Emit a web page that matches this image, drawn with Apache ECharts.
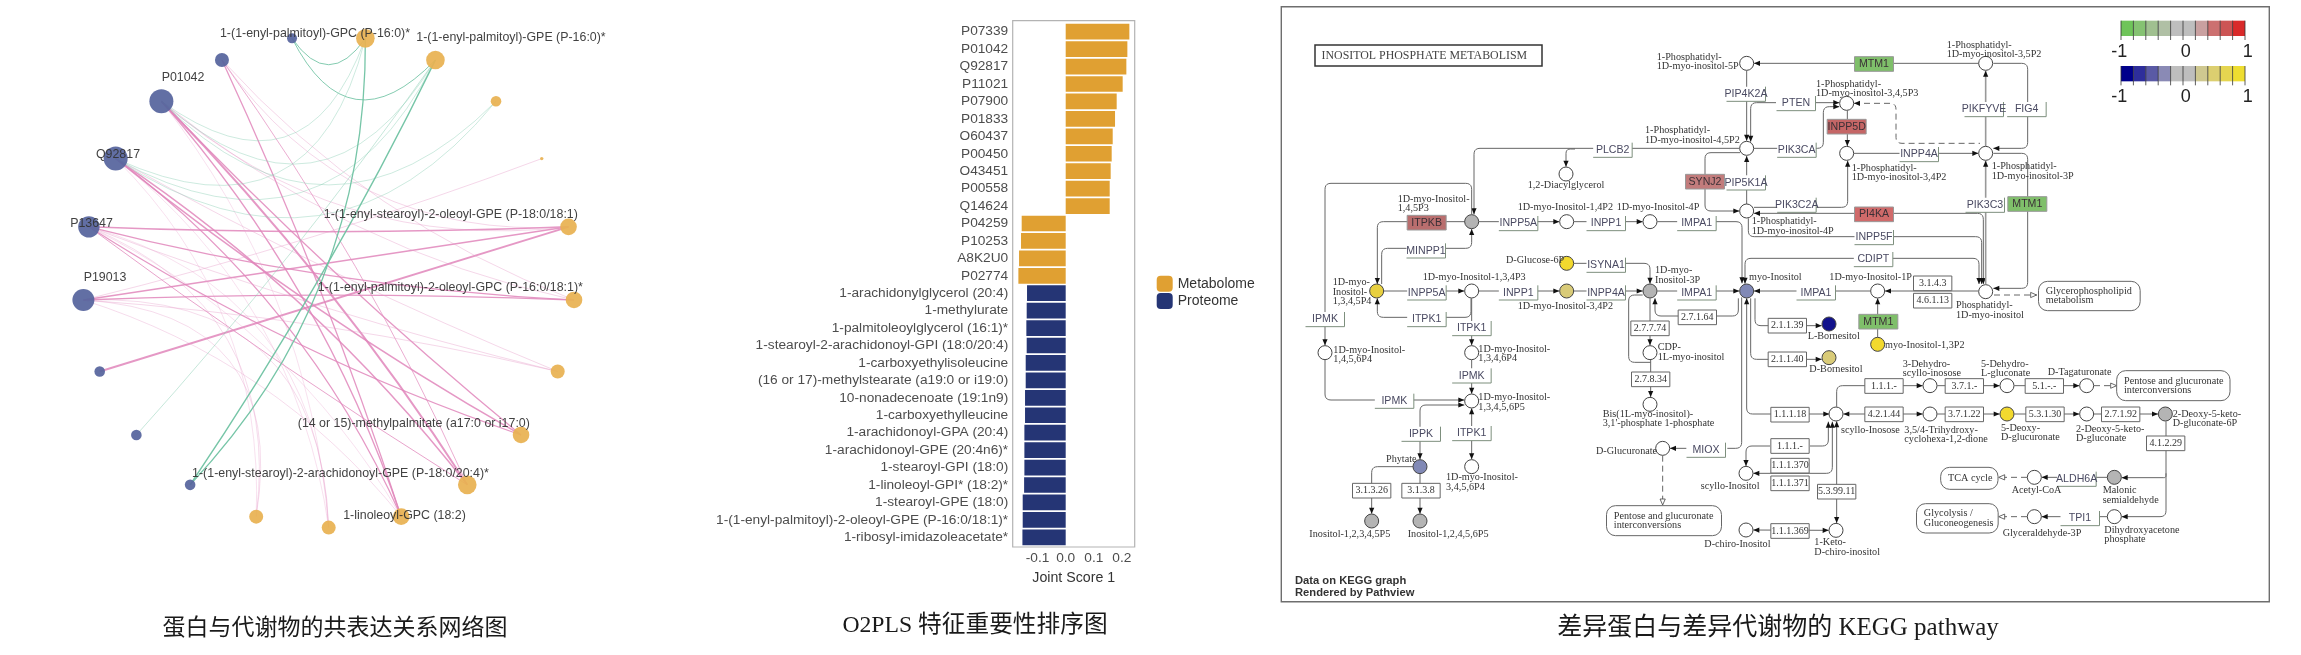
<!DOCTYPE html>
<html><head><meta charset="utf-8">
<style>html,body{margin:0;padding:0;background:#fff}#c{width:2301px;height:655px;filter:blur(.6px)}</style>
<script src="https://cdn.jsdelivr.net/npm/echarts@6/dist/echarts.min.js"></script></head>
<body><div id="c"></div>
<script>
/* ---------- panel 2 : O2PLS bars ---------- */
const barCategories=['P07339','P01042','Q92817','P11021','P07900','P01833','O60437','P00450','O43451','P00558','Q14624','P04259','P10253','A8K2U0','P02774','1-arachidonylglycerol (20:4)','1-methylurate','1-palmitoleoylglycerol (16:1)*','1-stearoyl-2-arachidonoyl-GPI (18:0/20:4)','1-carboxyethylisoleucine','(16 or 17)-methylstearate (a19:0 or i19:0)','10-nonadecenoate (19:1n9)','1-carboxyethylleucine','1-arachidonoyl-GPA (20:4)','1-arachidonoyl-GPE (20:4n6)*','1-stearoyl-GPI (18:0)','1-linoleoyl-GPI* (18:2)*','1-stearoyl-GPE (18:0)','1-(1-enyl-palmitoyl)-2-oleoyl-GPE (P-16:0/18:1)*','1-ribosyl-imidazoleacetate*'];
const metabolomeValues=[.2266,.2195,.2159,.2028,.1815,.1756,.1673,.1637,.1601,.1566,.1566,-.1566,-.159,-.166,-.1684];
const proteomeValues=[-.1376,-.1388,-.14,-.1388,-.1423,-.1423,-.1447,-.1447,-.147,-.147,-.147,-.148,-.153,-.153,-.154];
const xTicks=[-.1,0,.1,.2];

/* ---------- panel 1 : network, clockwise from the top ---------- */
const netNames=['1-(1-enyl-palmitoyl)-GPC (P-16:0)*','1-(1-enyl-palmitoyl)-GPE (P-16:0)*','m3','m4','1-(1-enyl-stearoyl)-2-oleoyl-GPE (P-18:0/18:1)','1-(1-enyl-palmitoyl)-2-oleoyl-GPC (P-16:0/18:1)*','m7','(14 or 15)-methylpalmitate (a17:0 or i17:0)','1-(1-enyl-stearoyl)-2-arachidonoyl-GPE (P-18:0/20:4)*','1-linoleoyl-GPC (18:2)','m11','m12','p9','p8','p7','P19013','P13647','Q92817','P01042','p2','p1'];
const netRadius=[9.3,9.3,5.3,1.7,8.3,8.3,7,8.3,9.3,8.3,7,7,5.3,5.3,5.3,11,10.7,12,12,7,5];
const netBlueFrom=12;
/* name index, label centre x, label centre y */
const netLabels=[[0,315,34],[1,511,37.3],[4,450.8,214.3],[5,450.3,287.7],[7,413.8,424],[8,340.5,474],[9,404.5,516],[15,105,278],[16,91.5,223.7],[17,118,155],[18,183,78]];
/* source, target, width, curveness, kind (p pink / t thin pink / g green / h thin green) */
const netLinks=[
[18,8,1.9,.05,'p'],[18,7,1.2,-.03,'p'],[18,9,1.3,.1,'p'],[17,7,1.4,-.04,'p'],[17,8,1.5,.08,'p'],[17,9,1.2,.13,'p'],
[16,4,1.5,-.02,'p'],[16,5,1.2,-.05,'p'],[16,7,1.2,-.06,'p'],[16,8,.9,-.02,'p'],[15,4,1.5,0,'p'],[15,5,1.4,.02,'p'],[14,4,1.9,0,'p'],[19,9,1.3,.03,'p'],[19,8,.8,.05,'p'],
[18,4,.8,-.22,'t'],[19,4,.8,-.28,'t'],[18,5,.8,-.12,'t'],[19,5,.8,-.12,'t'],[17,6,.8,-.03,'t'],[16,6,.8,-.03,'t'],[15,6,.8,.04,'t'],[15,3,.8,-.03,'t'],
[16,11,.7,.38,'t'],[15,11,.7,.55,'t'],[17,11,.6,.22,'t'],[18,10,.6,.15,'t'],[17,10,.6,.2,'t'],[16,10,.6,.36,'t'],[15,10,.7,.5,'t'],[16,9,.6,.15,'t'],[15,9,.7,.15,'t'],
[20,0,.9,-.72,'g'],[20,1,.9,-.7,'g'],[18,0,.7,-.66,'h'],[18,1,.7,-.6,'h'],[18,2,.7,-.5,'h'],[17,0,.7,-.6,'h'],[17,1,.7,-.52,'h'],[17,2,.7,-.45,'h'],[13,1,.8,-.03,'h'],[12,0,1.3,-.2,'g'],[12,1,1.5,-.035,'g']];
const netCentre=[328.7,281.6], netCircle=246;

/* ---------- panel 3 : KEGG map, in map units ---------- */
const W='#fff',GY='#b4b4b4',YL='#f2d92e',SL='#8189b6',KH='#d9cb78',NV='#12128c';
const keggCompounds=[[1430,190,W],[1430,445,W],[1430,633,W],[888,522,W],[605,665,GY],[890,665,W],[1140,665,W],[890,790,YL],[320,873,'#e8d040'],[605,873,W],[890,873,KH],[1140,873,GY],[1430,873,SL],[1730,310,W],[1730,460,W],[2147,190,W],[2147,460,W],[2147,875,W],[1823,873,W],[1677,972,NV],[1823,1033,YL],[1677,1073,KH],[1980,1157,W],[2211,1157,W],[2450,1157,W],[1698,1242,W],[1980,1242,W],[2211,1242,YL],[2450,1242,W],[2686,1242,GY],[2533,1432,GY],[2293,1432,W],[2533,1550,W],[2293,1550,W],[1698,1591,W],[1428,1420,W],[1428,1590,W],[165,1058,W],[605,1058,W],[605,1203,W],[605,1400,W],[450,1400,SL],[305,1563,GY],[450,1563,GY],[1140,1058,W],[1140,1213,W],[1178,1345,W]];
const RD='#b96e6e',RD2='#c27c7c',RD3='#c56666',RD4='#d06a6a',GR='#7fbf6a';
const keggGenes=[['PIP4K2A',1428,282],['PLCB2',1028,450],['ITPKB',470,668,RD],['MINPP1',468,752],['SYNJ2',1305,545,RD2],['PIP5K1A',1428,548],['INPP5A',745,670],['INPP1',1008,670],['IMPA1',1280,670],['ISYNA1',1008,795],['INPP5A',470,878],['INPP1',745,878],['INPP4A',1008,878],['IMPA1',1280,878],['ITPK1',470,958],['IPMK',165,958],['ITPK1',605,985],['PTEN',1578,310],['PIK3CA',1580,450],['PIK3C2A',1580,615],['INPP5D',1730,380,RD3],['MTM1',1812,192,GR],['PIKFYVE',2142,328],['FIG4',2270,328],['INPP4A',1947,463],['PIK3C3',2145,615],['MTM1',2272,612,GR],['PI4KA',1812,643,RD4],['INPP5F',1812,712],['CDIPT',1810,778],['IMPA1',1638,878],['MTM1',1825,965,GR],['IPMK',373,1203],['IPMK',605,1127],['IPPK',453,1302],['ITPK1',605,1300],['MIOX',1308,1350],['ALDH6A',2420,1437],['TPI1',2430,1555]];
const keggEnzymes=[['3.1.4.3',1988,850],['4.6.1.13',1988,902],['2.7.1.64',1282,952],['2.7.7.74',1140,985],['2.7.8.34',1142,1138],['2.1.1.39',1552,977],['2.1.1.40',1552,1078],['1.1.1.-',1842,1158],['3.7.1.-',2083,1158],['5.1.-.-',2323,1158],['1.1.1.18',1560,1244],['4.2.1.44',1842,1243],['3.7.1.22',2083,1243],['5.3.1.30',2325,1243],['2.7.1.92',2552,1243],['4.1.2.29',2687,1330],['1.1.1.-',1560,1338],['1.1.1.370',1560,1397],['1.1.1.371',1560,1450],['5.3.99.11',1700,1475],['1.1.1.369',1560,1593],['3.1.3.26',305,1472],['3.1.3.8',453,1472]];
const keggMaps=[['Glycerophospholipid\nmetabolism',2458,888,305,88],['Pentose and glucuronate\ninterconversions',1182,1562,345,90],['Pentose and glucuronate\ninterconversions',2710,1157,340,90],['TCA cycle',2098,1435,172,66],['Glycolysis /\nGluconeogenesis',2062,1555,245,88]];
const keggLabels=[['1-Phosphatidyl-\n1D-myo-inositol-5P',1160,172],['1-Phosphatidyl-\n1D-myo-inositol-4,5P2',1125,392],['1,2-Diacylglycerol',773,556],['1D-myo-Inositol-\n1,4,5P3',383,598],['1D-myo-Inositol-1,4P2',743,622],['1D-myo-Inositol-4P',1040,622],['1-Phosphatidyl-\n1D-myo-inositol-4P',1445,665],['D-Glucose-6P',708,782],['1D-myo-\nInositol-3P',1155,812],['1D-myo-Inositol-1,3,4P3',458,832],['1D-myo-\nInositol-\n1,3,4,5P4',188,848],['1D-myo-Inositol-3,4P2',743,920],['myo-Inositol',1437,832],['1-Phosphatidyl-\n1D-myo-inositol-3,5P2',2030,135],['1-Phosphatidyl-\n1D-myo-inositol-3,4,5P3',1638,252],['1-Phosphatidyl-\n1D-myo-inositol-3,4P2',1745,505],['1-Phosphatidyl-\n1D-myo-inositol-3P',2165,500],['1D-myo-Inositol-1P',1678,832],['Phosphatidyl-\n1D-myo-inositol',2058,917],['L-Bornesitol',1613,1008],['myo-Inositol-1,3P2',1845,1037],['D-Bornesitol',1618,1108],['3-Dehydro-\nscyllo-inosose',1898,1093],['5-Dehydro-\nL-gluconate',2133,1093],['D-Tagaturonate',2333,1117],['2-Deoxy-5-keto-\nD-gluconate-6P',2708,1242],['scyllo-Inosose',1713,1290],['3,5/4-Trihydroxy-\ncyclohexa-1,2-dione',1903,1290],['5-Deoxy-\nD-glucuronate',2193,1285],['2-Deoxy-5-keto-\nD-gluconate',2418,1288],['Malonic\nsemialdehyde',2498,1472],['Acetyl-CoA',2225,1472],['Glyceraldehyde-3P',2198,1600],['Dihydroxyacetone\nphosphate',2503,1591],['1-Keto-\nD-chiro-inositol',1633,1628],['1D-myo-Inositol-\n1,4,5,6P4',190,1050],['1D-myo-Inositol-\n1,3,4,6P4',625,1047],['1D-myo-Inositol-\n1,3,4,5,6P5',625,1193],['Phytate',348,1378],['1D-myo-Inositol-\n3,4,5,6P4',528,1433],['Inositol-1,2,3,4,5P5',118,1603],['Inositol-1,2,4,5,6P5',413,1603],['CDP-\n1L-myo-inositol',1163,1043],['Bis(1L-myo-inositol)-\n3,1\'-phosphate 1-phosphate',998,1242],['D-Glucuronate',978,1353],['scyllo-Inositol',1292,1458],['D-chiro-Inositol',1303,1633]];
/* polyline, flags: > end arrow, < start arrow, d dashed, o open arrow, g thick grey */
const keggEdges=[
[[1430,212,1430,422],'>'],[[1518,308,1442,308,1442,425],'>'],[[2126,190,1452,190],'>'],[[1408,445,612,445,612,643],'>'],[[915,447,888,447,888,500],'>'],
[[1410,458,1305,458,1305,633,1408,633],'>'],[[1430,612,1430,468],'>'],[[585,665,322,665,322,852],'>'],[[335,852,335,745,605,745,605,687],'>'],[[627,665,868,665],'>'],
[[912,665,1118,665],'>'],[[1162,665,1416,665,1416,850],'>'],[[605,643,605,550,165,550,165,1036],'>'],[[912,790,1140,790,1140,851],'>'],[[342,873,583,873],'>'],
[[627,873,868,873],'>'],[[912,873,1118,873],'>'],[[1162,873,1408,873],'>'],[[1801,873,1452,873],'>'],[[603,895,603,952,322,952,322,895],'>'],[[605,895,605,1036],'>'],
[[605,1080,605,1181],'>'],[[165,1080,165,1200,583,1200],'>'],[[450,1378,450,1215,583,1215],'<>'],[[605,1378,605,1225],'<>'],[[430,1400,305,1400,305,1541],'>'],[[450,1422,450,1541],'>'],
[[1405,895,1405,948,1155,948,1155,895],'>'],[[1140,895,1140,1036],'>'],[[1142,1080,1142,1191],'>'],[[1118,885,1076,885,1076,1087,1142,1087],''],[[1415,892,1415,1345,1372,1345],''],[[1250,1345,1200,1345],'>'],
[[1430,895,1430,1242,1678,1242],'<>'],[[1455,895,1455,977,1655,977],'>'],[[1442,895,1442,1078,1655,1078],'>'],[[1425,851,1425,775,2127,775,2127,852],'<>'],[[1435,655,1435,710,2135,710,2135,852],'>'],[[1452,640,2140,640,2140,852],'<>'],
[[1452,622,1733,622,1733,482],'>'],[[1452,445,1660,445,1660,320,1708,320],'>'],[[1732,332,1732,438],'>'],[[1635,308,1708,308],'>'],[[1752,310,1878,310,1878,430,2130,430],'<d'],[[1752,460,2125,460],'>'],
[[2147,438,2147,212],'>g'],[[2170,190,2273,190,2273,445,2170,445],'>'],[[2170,460,2273,460,2273,865,2170,865],'>'],[[2147,852,2147,482],'>g'],[[2125,873,1845,873],'>'],[[1823,1012,1823,895],'>'],
[[2172,885,2300,885],'>do'],[[1700,1220,1700,1157,1958,1157],'>'],[[2002,1157,2189,1157],'>'],[[2233,1157,2428,1157],'>'],[[2472,1157,2540,1157],'>do'],[[1958,1242,1720,1242],'<>'],[[2002,1242,2189,1242],'>'],[[2233,1242,2428,1242],'>'],[[2472,1242,2664,1242],'>'],
[[2688,1264,2688,1550,2555,1550],'>'],[[2688,1420,2688,1433,2555,1433],'>'],[[2511,1432,2315,1432],'>'],[[2511,1550,2315,1550],'>'],[[2271,1432,2186,1432],'>do'],[[2271,1550,2186,1550],'>do'],
[[1620,1338,1675,1338,1675,1265],'>'],[[1500,1338,1428,1338,1428,1398],'>'],[[1687,1265,1687,1420,1450,1420],'<>'],[[1700,1264,1700,1569],'<>'],[[1450,1590,1676,1591],'<>'],[[1178,1367,1178,1515],'>do']];
const scaleRedGreen=['#6fc45a','#85c272','#a0c090','#b0c0a5','#bebebe','#bebebe','#c9a0a0','#cc7070','#cc5555','#d92a2a'];
const scaleBlueYellow=['#00008b','#2e2e9b','#5a5aa5','#8a8ab5','#bebebe','#bebebe','#cfc890','#dccf70','#e5d550','#eedd30'];
const scaleTicks=['-1','0','1'];
const titles=['蛋白与代谢物的共表达关系网络图','O2PLS 特征重要性排序图','差异蛋白与差异代谢物的 KEGG pathway'];

/* ---------- build ---------- */
const chart=echarts.init(document.getElementById('c'),null,{width:2301,height:655});
const nodePos=i=>{const a=(8.5714+17.142857*i)*Math.PI/180;return [netCentre[0]+netCircle*Math.sin(a),netCentre[1]-netCircle*Math.cos(a)];};
const netNodes=netNames.map((n,i)=>{
  const p=nodePos(i),l=netLabels.find(x=>x[0]===i);
  return {name:n,value:p,symbolSize:netRadius[i]*2,
    itemStyle:{color:i>=netBlueFrom?'#56649d':'#e8b152',opacity:.93},
    label:l?{show:true,position:'inside',offset:[l[1]-p[0],l[2]-p[1]],formatter:n,color:'#333',fontSize:12.4,fontFamily:'Liberation Sans'}:{show:false}};
});
const linkStyle={p:['#e186bb',.85],t:['#e69ac8',.5],g:['#6fc2a2',.95],h:['#86cdb2',.6]};
const netEdges=netLinks.map(l=>({source:l[0],target:l[1],lineStyle:{width:l[2],curveness:l[3],color:linkStyle[l[4]][0],opacity:linkStyle[l[4]][1]}}));

const FS='Liberation Serif', SANS='Liberation Sans';
const rounded=(pts,api)=>{
  const P=[];for(let i=0;i<pts.length;i+=2)P.push(api.coord([pts[i],pts[i+1]]));
  const out=[P[0]];
  for(let i=1;i<P.length-1;i++){
    const a=P[i-1],b=P[i],c=P[i+1],la=Math.hypot(a[0]-b[0],a[1]-b[1]),lc=Math.hypot(c[0]-b[0],c[1]-b[1]),r=Math.min(6,la/2,lc/2);
    const s=[b[0]+(a[0]-b[0])*r/la,b[1]+(a[1]-b[1])*r/la],e=[b[0]+(c[0]-b[0])*r/lc,b[1]+(c[1]-b[1])*r/lc];
    for(let t=0;t<=1.001;t+=.2)out.push([(1-t)*(1-t)*s[0]+2*t*(1-t)*b[0]+t*t*e[0],(1-t)*(1-t)*s[1]+2*t*(1-t)*b[1]+t*t*e[1]]);
  }
  out.push(P[P.length-1]);return {P,out};
};
const arrow=(tip,from,open,col)=>{
  const d=Math.hypot(tip[0]-from[0],tip[1]-from[1])||1,ux=(tip[0]-from[0])/d,uy=(tip[1]-from[1])/d,L=6,H=2.6;
  return {type:'polygon',shape:{points:[tip,[tip[0]-ux*L-uy*H,tip[1]-uy*L+ux*H],[tip[0]-ux*L+uy*H,tip[1]-uy*L-ux*H]]},style:{fill:open?'#fff':'#111',stroke:open?'#444':null,lineWidth:.8}};
};
const renderEdge=(p,api)=>{
  const [pts,f]=keggEdges[p.dataIndex],{P,out}=rounded(pts,api);
  const thick=f.includes('g'),col=thick?'#999':'#666',kids=[{type:'polyline',shape:{points:out},style:{stroke:col,lineWidth:thick?1.6:1,fill:null,lineDash:f.includes('d')?[6,4]:null}}];
  if(f.includes('>'))kids.push(arrow(P[P.length-1],P[P.length-2],f.includes('o')));
  if(f.includes('<'))kids.push(arrow(P[0],P[1],false));
  return {type:'group',children:kids};
};
const boxRect=(cx,cy,w,h,api)=>{const a=api.coord([cx-w/2,cy-h/2]),b=api.coord([cx+w/2,cy+h/2]);return {x:a[0],y:a[1],width:b[0]-a[0],height:b[1]-a[1]};};
const renderGene=(p,api)=>{
  const [t,x,y,fill]=keggGenes[p.dataIndex],r=boxRect(x,y,117,44,api),c=api.coord([x,y]);
  const kids=[{type:'rect',shape:r,style:{fill:fill||'#fff',stroke:fill?'#999':null,lineWidth:1}}];
  if(!fill){kids.push({type:'polyline',shape:{points:[[r.x,r.y+r.height],[r.x+r.width,r.y+r.height],[r.x+r.width,r.y]]},style:{stroke:'#7d8f7d',lineWidth:1,fill:null}});}
  kids.push({type:'text',style:{x:c[0],y:c[1],text:t,fill:fill?'#3b3036':'#4a4a62',font:'10.6px '+SANS,textAlign:'center',textVerticalAlign:'middle'}});
  return {type:'group',children:kids};
};
const renderEnzyme=(p,api)=>{
  const [t,x,y]=keggEnzymes[p.dataIndex],r=boxRect(x,y,115,44,api),c=api.coord([x,y]);
  return {type:'group',children:[{type:'rect',shape:r,style:{fill:'#fff',stroke:'#666',lineWidth:1}},
    {type:'text',style:{x:c[0],y:c[1],text:t,fill:'#333',font:'10px '+FS,textAlign:'center',textVerticalAlign:'middle'}}]};
};
const renderMap=(p,api)=>{
  const [t,x,y,w,h]=keggMaps[p.dataIndex],r=boxRect(x,y,w,h,api),a=api.coord([x-w/2+22,y]);
  const lines=t.split('\n'),kids=[{type:'rect',shape:{...r,r:9},style:{fill:'#fff',stroke:'#666',lineWidth:1}}];
  lines.forEach((s,i)=>kids.push({type:'text',style:{x:a[0],y:a[1]+(i-(lines.length-1)/2)*9.3,text:s,fill:'#333',font:'10.2px '+FS,textVerticalAlign:'middle'}}));
  return {type:'group',children:kids};
};
const renderLabel=(p,api)=>{
  const [t,x,y]=keggLabels[p.dataIndex],a=api.coord([x,y]);
  return {type:'group',children:t.split('\n').map((s,i)=>({type:'text',style:{x:a[0],y:a[1]+i*9.4,text:s,fill:'#333',font:'10.2px '+FS,textVerticalAlign:'middle'}}))};
};
const scaleCell=(p,api)=>{
  const row=p.dataIndex<10?0:1,i=p.dataIndex%10,col=(row?scaleBlueYellow:scaleRedGreen)[i],yT=row?198:62,x0=2553,dx=37.2;
  const a=api.coord([x0+i*dx,yT]),b=api.coord([x0+(i+1)*dx,yT+46]),t=api.coord([x0+i*dx,yT+58]);
  const kids=[{type:'rect',shape:{x:a[0],y:a[1],width:b[0]-a[0],height:b[1]-a[1]},style:{fill:col}},
    {type:'line',shape:{x1:a[0],y1:a[1],x2:a[0],y2:t[1]},style:{stroke:'#333',lineWidth:.8}}];
  if(i===9)kids.push({type:'line',shape:{x1:b[0],y1:a[1],x2:b[0],y2:t[1]},style:{stroke:'#333',lineWidth:.8}});
  return {type:'group',children:kids};
};
const scaleText=(p,api)=>{
  const k=p.dataIndex%3,row=p.dataIndex<3?0:1,c=api.coord([[2548,2747,2933][k],row?290:157]);
  return {type:'text',style:{x:c[0],y:c[1],text:scaleTicks[k],fill:'#222',font:'18px '+SANS,textAlign:'center',textVerticalAlign:'middle'}};
};
const idx=a=>a.map((_,i)=>[i,0]);
const kegg=(name,renderItem,data,z)=>({name,type:'custom',xAxisIndex:2,yAxisIndex:2,coordinateSystem:'cartesian2d',clip:false,silent:true,renderItem,data,z,encode:{x:0,y:1},animation:false});

chart.setOption({
  animation:false,backgroundColor:'#fff',
  title:[
    {text:titles[0],left:330,top:621,textAlign:'center',textVerticalAlign:'middle',textStyle:{fontFamily:'Noto Sans CJK SC',fontSize:23,fontWeight:'normal',color:'#1a1a1a'}},
    {text:titles[1],left:970,top:621,textAlign:'center',textVerticalAlign:'middle',textStyle:{fontFamily:'Liberation Serif, Noto Sans CJK SC',fontSize:23.7,fontWeight:'normal',color:'#1a1a1a'}},
    {text:titles[2],left:1773,top:623,textAlign:'center',textVerticalAlign:'middle',textStyle:{fontFamily:'Liberation Serif, Noto Sans CJK SC',fontSize:25,fontWeight:'normal',color:'#1a1a1a'}}
  ],
  grid:[{left:1012.7,width:122,top:23,height:523},{left:0,top:0,width:640,height:655},{left:1270,top:0,width:1031,height:655}],
  xAxis:[
    {type:'value',gridIndex:0,min:-.1886,max:.2456,splitLine:{show:false},axisLine:{show:false},
     axisTick:{length:3,lineStyle:{color:'#666'},customValues:xTicks},
     axisLabel:{customValues:xTicks,formatter:v=>v.toFixed(1),fontSize:13.7,color:'#4d4d4d',fontFamily:SANS,margin:5},
     name:'Joint Score 1',nameLocation:'middle',nameGap:25,nameTextStyle:{fontSize:14.2,color:'#333',fontFamily:SANS}},
    {type:'value',gridIndex:1,min:0,max:640,show:false},
    {type:'value',gridIndex:2,min:0,max:3093,show:false}],
  yAxis:[
    {type:'category',gridIndex:0,inverse:true,data:barCategories,axisLine:{show:false},axisTick:{length:2.5,lineStyle:{color:'#666'}},
     axisLabel:{interval:0,fontSize:13.7,color:'#4d4d4d',fontFamily:SANS,margin:4.5}},
    {type:'value',gridIndex:1,min:0,max:655,inverse:true,show:false},
    {type:'value',gridIndex:2,min:0,max:1965,inverse:true,show:false}],
  legend:{left:1151.7,top:270.7,orient:'vertical',itemWidth:16,itemHeight:16,itemGap:1.2,data:['Metabolome','Proteome'],textStyle:{fontSize:14,color:'#333',fontFamily:SANS},selectedMode:false},
  graphic:[
    {type:'rect',shape:{x:1012.7,y:20.7,width:122,height:526.3},style:{fill:null,stroke:'#b3b3b3',lineWidth:1.2},z:5},
    {type:'rect',shape:{x:1281.3,y:6.7,width:988,height:595},style:{fill:null,stroke:'#6e6e6e',lineWidth:1.4},z:0},
    {type:'rect',shape:{x:1315,y:45,width:227,height:21},style:{fill:null,stroke:'#333',lineWidth:1.5},z:5},
    {type:'text',style:{x:1321.5,y:56,text:'INOSITOL PHOSPHATE METABOLISM',fill:'#444',font:'11.9px '+FS,textVerticalAlign:'middle'},z:5},
    {type:'text',style:{x:1295,y:580.7,text:'Data on KEGG graph',fill:'#333',font:'bold 11.2px '+SANS,textVerticalAlign:'middle'},z:5},
    {type:'text',style:{x:1295,y:593.3,text:'Rendered by Pathview',fill:'#333',font:'bold 11.2px '+SANS,textVerticalAlign:'middle'},z:5}
  ],
  series:[
    {name:'Metabolome',type:'bar',xAxisIndex:0,yAxisIndex:0,data:metabolomeValues.concat(proteomeValues.map(()=>null)),barWidth:'90%',barGap:'-100%',itemStyle:{color:'#e0a032'}},
    {name:'Proteome',type:'bar',xAxisIndex:0,yAxisIndex:0,data:metabolomeValues.map(()=>null).concat(proteomeValues),barWidth:'90%',barGap:'-100%',itemStyle:{color:'#253575'}},
    {name:'network',type:'graph',coordinateSystem:'cartesian2d',xAxisIndex:1,yAxisIndex:1,layout:'none',silent:true,data:netNodes,links:netEdges,edgeSymbol:['none','none'],z:3},
    kegg('edges',renderEdge,idx(keggEdges),2),
    kegg('genes',renderGene,idx(keggGenes),3),
    kegg('enzymes',renderEnzyme,idx(keggEnzymes),3),
    kegg('maps',renderMap,idx(keggMaps),3),
    {name:'compounds',type:'scatter',xAxisIndex:2,yAxisIndex:2,silent:true,symbolSize:14,z:4,data:keggCompounds.map(c=>({value:[c[0],c[1]],itemStyle:{color:c[2],borderColor:'#444',borderWidth:1,opacity:1}}))},
    kegg('labels',renderLabel,idx(keggLabels),5),
    kegg('scale',scaleCell,idx(scaleRedGreen.concat(scaleBlueYellow)),3),
    kegg('scaleText',scaleText,idx(scaleTicks.concat(scaleTicks)),3)
  ]
});
</script></body></html>
